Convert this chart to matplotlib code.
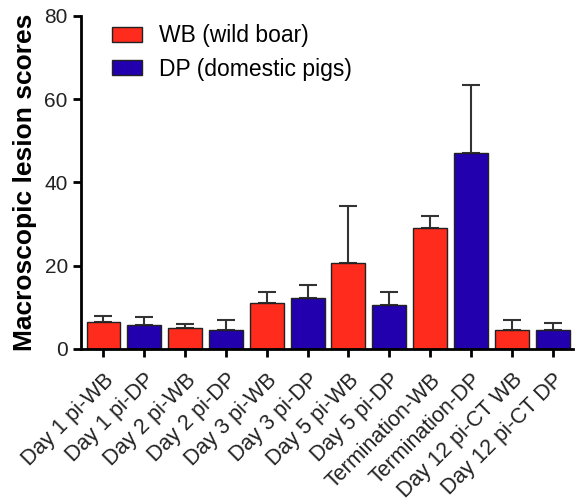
import matplotlib
matplotlib.use("Agg")
import matplotlib.pyplot as plt
from matplotlib.patches import Patch

categories = ["Day 1 pi-WB", "Day 1 pi-DP", "Day 2 pi-WB", "Day 2 pi-DP",
              "Day 3 pi-WB", "Day 3 pi-DP", "Day 5 pi-WB", "Day 5 pi-DP",
              "Termination-WB", "Termination-DP", "Day 12 pi-CT WB", "Day 12 pi-CT DP"]
means = [6.3, 5.6, 4.9, 4.6, 10.9, 12.3, 20.6, 10.4, 29.0, 47.1, 4.6, 4.6]
upper = [7.9, 7.7, 6.0, 6.8, 13.6, 15.3, 34.2, 13.6, 32.0, 63.4, 6.8, 6.1]
groups = ["WB", "DP", "WB", "DP", "WB", "DP", "WB", "DP", "WB", "DP", "WB", "DP"]
legend_labels = {"WB": "WB (wild boar)", "DP": "DP (domestic pigs)"}
colors = {"WB": "#FF2B1C", "DP": "#2300AD"}

plt.rcParams['font.family'] = ['Liberation Sans', 'DejaVu Sans']

fig = plt.figure(figsize=(5.87, 5.04), dpi=100)
ax = fig.add_axes([81/587, 1-348.7/504, (573-81)/587, (348.7-16)/504])

x = list(range(len(categories)))
errs = [u - m for u, m in zip(upper, means)]
bar_colors = [colors[g] for g in groups]
eb = ax.errorbar(x, means, yerr=[[0]*len(errs), errs], fmt='none', ecolor="#333333",
                 elinewidth=1.5, capsize=6.5, capthick=1.5)
for art in list(eb.lines[1]) + list(eb.lines[2]):
    art.set_zorder(1)
ax.bar(x, means, width=0.83, color=bar_colors, edgecolor="#222222", linewidth=1.0, zorder=3)

ax.set_xlim(-0.55, 11.5)
ax.set_ylim(0, 80)
ax.set_yticks([0, 20, 40, 60, 80])
ax.set_xticks(x)
ax.set_xticklabels(categories, rotation=45, ha='right', rotation_mode='anchor', fontsize=15.5)
ax.tick_params(axis='y', labelsize=15, width=2, length=6, direction='out', labelcolor='#222222')
ax.tick_params(axis='x', width=2, length=6, direction='out', pad=9, labelcolor='#222222')
for s in ['top', 'right']:
    ax.spines[s].set_visible(False)
for s in ['left', 'bottom']:
    ax.spines[s].set_linewidth(2)
    ax.spines[s].set_zorder(4)
ax.set_ylabel("Macroscopic lesion scores", fontsize=19, fontweight='bold', labelpad=5)

handles = [Patch(facecolor=colors[g], edgecolor="#222222", label=legend_labels[g]) for g in ["WB", "DP"]]
ax.legend(handles=handles, loc='upper left', bbox_to_anchor=(0.021, 1.037), frameon=False,
          fontsize=16.5, handlelength=1.3, handleheight=0.61, handletextpad=0.75,
          labelspacing=0.45, borderpad=0.4)

fig.savefig("out.png", dpi=100)
